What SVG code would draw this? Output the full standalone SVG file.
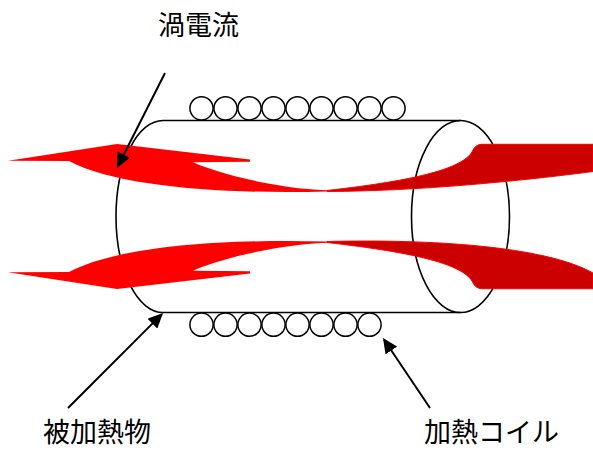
<svg xmlns="http://www.w3.org/2000/svg" width="593" height="450" viewBox="0 0 593 450">
  <style>
    .body { fill: none; stroke: #000; stroke-width: 1.6; }
    .coil { fill: #fff; stroke: #000; stroke-width: 1.5; }
    .front { fill: #ff0000; stroke: none; }
    .back { fill: #cc0000; stroke: #ff0000; stroke-width: 1; }
    .lead { fill: none; stroke: #000; stroke-width: 2; marker-end: url(#head); }
    .label { font-family: "Noto Sans CJK JP", "Noto Sans CJK SC", sans-serif; font-size: 27px; fill: #000; text-anchor: middle; }
  </style>
  <defs>
    <marker id="head" viewBox="0 0 15 14" refX="13" refY="7" markerWidth="15" markerHeight="14" markerUnits="userSpaceOnUse" orient="auto">
      <path d="M0,0 L15,7 L0,14 Z" fill="#000"/>
    </marker>
  </defs>

  <!-- heated workpiece: cylinder -->
  <g id="workpiece">
    <path class="body" d="M 460.5 120.5 L 163 120.5 A 47 96 0 0 0 163 312.5 L 460.5 312.5"/>
    <ellipse class="body" cx="460.5" cy="216.5" rx="49" ry="96"/>
  </g>

  <!-- heating coil windings -->
  <g id="coil">
    <circle class="coil" cx="201.5" cy="108.3" r="11.6"/>
    <circle class="coil" cx="225.5" cy="108.3" r="11.6"/>
    <circle class="coil" cx="249.5" cy="108.3" r="11.6"/>
    <circle class="coil" cx="273.5" cy="108.3" r="11.6"/>
    <circle class="coil" cx="297.5" cy="108.3" r="11.6"/>
    <circle class="coil" cx="321.5" cy="108.3" r="11.6"/>
    <circle class="coil" cx="345.5" cy="108.3" r="11.6"/>
    <circle class="coil" cx="369.5" cy="108.3" r="11.6"/>
    <circle class="coil" cx="393.5" cy="108.3" r="11.6"/>
    <circle class="coil" cx="201.5" cy="324.7" r="11.6"/>
    <circle class="coil" cx="225.5" cy="324.7" r="11.6"/>
    <circle class="coil" cx="249.5" cy="324.7" r="11.6"/>
    <circle class="coil" cx="273.5" cy="324.7" r="11.6"/>
    <circle class="coil" cx="297.5" cy="324.7" r="11.6"/>
    <circle class="coil" cx="321.5" cy="324.7" r="11.6"/>
    <circle class="coil" cx="345.5" cy="324.7" r="11.6"/>
    <circle class="coil" cx="369.5" cy="324.7" r="11.6"/>
  </g>

  <!-- eddy current bands (back face darker, front face bright) -->
  <g id="eddy-upper">
    <path class="back" d="M 327 190.5 C 420 180, 462 168, 472 152 Q 475 144.3, 482 144.3 L 593 144.3 L 593 171.5 C 520 181, 420 191, 327 191.5 Z"/>
    <path class="front" d="M 8 160.7 L 117 144 L 250 159.6 L 250 161.8 L 193 162.3 C 215 172, 270 188, 327 190.3 L 327 191.5 C 230 194, 120 188, 69 161 Z"/>
  </g>
  <g id="eddy-lower">
    <path class="back" d="M 327 242.5 C 420 253, 462 265, 472 281 Q 475 288.7, 482 288.7 L 593 288.7 L 593 273 C 545 246, 430 239, 327 241.5 Z"/>
    <path class="front" transform="translate(0,433) scale(1,-1)" d="M 8 160.7 L 117 144 L 250 159.6 L 250 161.8 L 193 162.3 C 215 172, 270 188, 327 190.3 L 327 191.5 C 230 194, 120 188, 69 161 Z"/>
  </g>

  <!-- leader lines -->
  <g id="leaders">
    <line class="lead" x1="165" y1="73" x2="117.9" y2="166.2"/>
    <line class="lead" x1="68" y1="408" x2="161.6" y2="314.4"/>
    <line class="lead" x1="430" y1="408" x2="384.1" y2="339.7"/>
  </g>

  <g id="label-eddy"><text class="label" x="198.5" y="35">渦電流</text></g>
  <g id="label-workpiece"><text class="label" x="97" y="442">被加熱物</text></g>
  <g id="label-coil"><text class="label" x="491.5" y="442">加熱コイル</text></g>
</svg>
